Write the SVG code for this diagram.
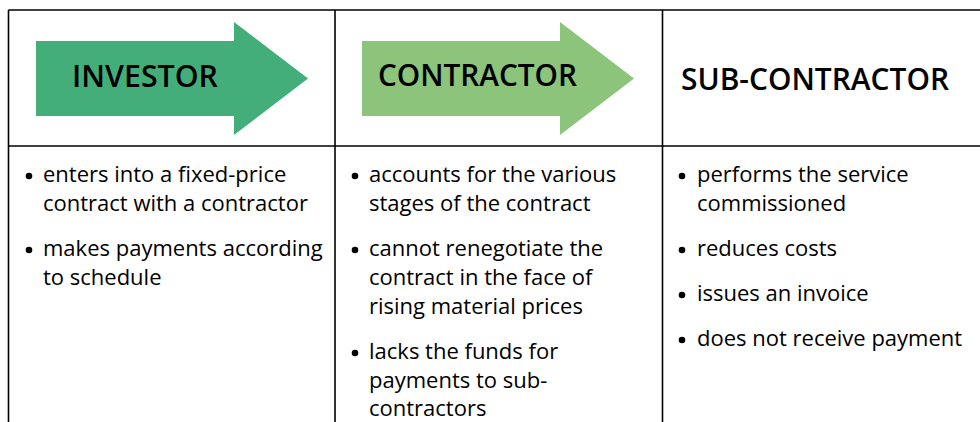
<svg xmlns="http://www.w3.org/2000/svg" width="980" height="422" viewBox="0 0 980 422">
<style>
.grid{stroke:#000;stroke-width:1.6;fill:none}
.hd{font-family:"Open Sans","Noto Sans","Liberation Sans",sans-serif;font-size:30px;font-weight:600;fill:#000}
.bt{font-family:"Open Sans","Noto Sans","Liberation Sans",sans-serif;font-size:22px;fill:#000}
.dot{fill:#000}
</style>
<rect width="980" height="422" fill="#fff"/>
<g id="grid">
<line class="grid" x1="8.5" y1="10" x2="980" y2="10"/>
<line class="grid" x1="8.5" y1="146" x2="980" y2="146"/>
<line class="grid" x1="8.5" y1="10" x2="8.5" y2="422"/>
<line class="grid" x1="335" y1="10" x2="335" y2="422"/>
<line class="grid" x1="662.5" y1="10" x2="662.5" y2="422"/>
</g>
<g id="investor">
<polygon points="36,41 234,41 234,22 308,78.5 234,135 234,116 36,116" fill="#43ae7a"/>
<text class="hd" x="72" y="87" textLength="146" lengthAdjust="spacingAndGlyphs">INVESTOR</text>
</g>
<g id="contractor">
<polygon points="362,41 560,41 560,22 634,78.5 560,135 560,116 362,116" fill="#8cc47b"/>
<text class="hd" x="378" y="86" textLength="199" lengthAdjust="spacingAndGlyphs">CONTRACTOR</text>
</g>
<g id="subcontractor">
<text class="hd" x="681" y="90" textLength="268" lengthAdjust="spacingAndGlyphs">SUB-CONTRACTOR</text>
</g>
<g id="investor-notes">
<circle class="dot" cx="29" cy="176" r="3.3"/>
<text class="bt" x="43" y="182">enters into a fixed-price</text>
<text class="bt" x="43" y="211">contract with a contractor</text>
<circle class="dot" cx="29" cy="250" r="3.3"/>
<text class="bt" x="43" y="256">makes payments according</text>
<text class="bt" x="43" y="285">to schedule</text>
</g>
<g id="contractor-notes">
<circle class="dot" cx="355" cy="176" r="3.3"/>
<text class="bt" x="369" y="182">accounts for the various</text>
<text class="bt" x="369" y="211">stages of the contract</text>
<circle class="dot" cx="355" cy="250" r="3.3"/>
<text class="bt" x="369" y="256">cannot renegotiate the</text>
<text class="bt" x="369" y="285">contract in the face of</text>
<text class="bt" x="369" y="314">rising material prices</text>
<circle class="dot" cx="355" cy="353" r="3.3"/>
<text class="bt" x="369" y="359">lacks the funds for</text>
<text class="bt" x="369" y="388">payments to sub-</text>
<text class="bt" x="369" y="416">contractors</text>
</g>
<g id="subcontractor-notes">
<circle class="dot" cx="682" cy="176" r="3.3"/>
<text class="bt" x="697" y="182">performs the service</text>
<text class="bt" x="697" y="211">commissioned</text>
<circle class="dot" cx="682" cy="250" r="3.3"/>
<text class="bt" x="697" y="256">reduces costs</text>
<circle class="dot" cx="682" cy="295" r="3.3"/>
<text class="bt" x="697" y="301">issues an invoice</text>
<circle class="dot" cx="682" cy="340" r="3.3"/>
<text class="bt" x="697" y="346">does not receive payment</text>
</g>
</svg>
